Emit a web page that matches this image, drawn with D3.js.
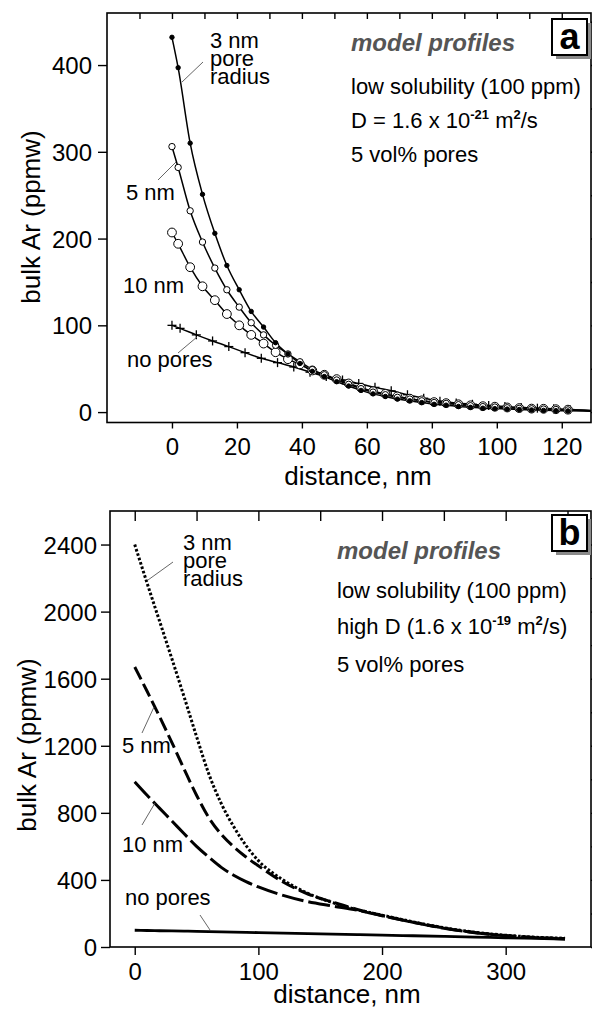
<!DOCTYPE html>
<html>
<head>
<meta charset="utf-8">
<script src="https://cdn.jsdelivr.net/npm/d3@7"></script>
<style>
  body { margin: 0; background: #fff; }
  svg { display: block; }
  text { font-family: "Liberation Sans", Arial, Helvetica, sans-serif; fill: #000; }
</style>
</head>
<body>
<svg id="fig" width="592" height="1013"></svg>
<script>
// ---------- panel a: model profiles, D = 1.6e-21 m2/s ----------
const distDots = [0, 1.9, 5.6, 9.4, 13.2, 16.9, 20.7, 24.4, 28.2, 31.9, 35.7, 39.4, 43.2, 46.9, 50.7, 54.4,
  58.2, 61.9, 65.7, 69.4, 73.2, 76.9, 80.7, 84.4, 88.2, 91.9, 95.7, 99.4, 103.2, 106.9, 110.7, 114.4,
  118.2, 121.9, 129];
const pore3A = [432, 397, 310, 251, 206, 169, 141, 116, 98, 80, 67, 56, 47, 41, 35, 30, 25, 21, 18, 15,
  13, 11, 9, 8, 6.5, 5.5, 4.5, 4, 3.5, 3, 2.5, 2, 1.7, 1.4, 1];
const pore5A = [306, 282, 232, 196, 166, 141, 121, 103, 89, 77, 67, 58, 49, 43, 37, 32, 27, 23, 20, 17,
  15, 13, 11, 10, 8.5, 7.3, 6.3, 5.8, 5, 4.3, 3.8, 3.5, 3, 2.5, 1.5];
const pore10A = [207, 194, 167, 145, 129, 113, 100, 89, 79, 69, 61, 55, 48, 43, 38, 33, 28, 24, 21, 18,
  15.5, 13.5, 11.5, 10.3, 9, 7.8, 6.8, 6.2, 5.3, 4.6, 4, 3.8, 3.3, 2.8, 1.8];
const distCross = [0, 2.5, 7.5, 12.5, 17.5, 22.5, 27.5, 32.5, 37.5, 42.5, 47.5, 52.5, 57.5, 62.5, 67.5,
  72.5, 77.5, 82.5, 87.5, 92.5, 97.5, 102.5, 107.5, 112.5, 117.5, 122.5, 129];
const noPoresA = [100, 96.5, 89, 82, 75.5, 68.5, 62, 57, 52, 46, 41, 37, 33, 28.5, 24.5, 20, 16, 12.5,
  10.5, 9, 7.5, 6.3, 5.3, 4.5, 3.8, 3, 1.5];
const xTicksA = [0, 20, 40, 60, 80, 100, 120];
const yTicksA = [0, 100, 200, 300, 400];

// ---------- panel b: model profiles, high D = 1.6e-19 m2/s ----------
const distB = [0, 10, 20, 30, 40, 50, 60, 70, 80, 90, 100, 120, 140, 160, 180, 200, 225, 250, 275, 300, 325, 348];
const pore3B = [2400, 2170, 1945, 1720, 1490, 1255, 1030, 855, 718, 605, 515, 400, 320, 265, 222, 190, 150, 115, 88, 70, 58, 52];
const pore5B = [1670, 1525, 1375, 1220, 1060, 905, 770, 672, 598, 537, 484, 388, 316, 268, 224, 188, 148, 113, 86, 68, 56, 50];
const pore10B = [985, 905, 828, 752, 675, 600, 535, 475, 428, 390, 358, 308, 270, 244, 219, 186, 147, 112, 85, 67, 55, 48];
const noPoresB = [100, 98.5, 97, 96, 95, 93.5, 92, 90.5, 89, 87.5, 86, 83, 80, 77, 74, 71, 67, 63, 59, 55, 51, 47];
const xTicksB = [0, 100, 200, 300];
const yTicksB = [0, 400, 800, 1200, 1600, 2000, 2400];

const svg = d3.select("#fig");
const TICK_FONT = 24, TITLE_FONT = 26, NOTE_FONT = 22;

// scales
const xA = d3.scaleLinear().domain([-20, 129]).range([107, 591]);
const yA = d3.scaleLinear().domain([-12, 460]).range([422.5, 13]);
const xB = d3.scaleLinear().domain([-20, 369]).range([110, 591]);
const yB = d3.scaleLinear().domain([0, 2600]).range([947, 511]);

function frame(g, x, y, o) {
  const [x0, x1] = x.range(), [y0, y1] = [y.range()[1], y.range()[0]];
  // bottom axis, outward ticks
  const bottom = g.append("g").attr("transform", `translate(0,${y1})`);
  bottom.call(d3.axisBottom(x).tickValues(o.xMinor).tickSize(o.xMinorLen).tickFormat("").tickSizeOuter(0));
  bottom.call(d3.axisBottom(x).tickValues(o.xMajor).tickSize(o.xMajorLen).tickSizeOuter(0)
    .tickFormat(d3.format("d")));
  bottom.selectAll(".domain").remove();
  bottom.selectAll("text").attr("font-size", TICK_FONT).attr("y", o.xLabelDy).attr("dy", 0)
    .style("font-family", "Liberation Sans, Arial, sans-serif");
  // left axis, outward ticks
  const left = g.append("g").attr("transform", `translate(${x0},0)`);
  left.call(d3.axisLeft(y).tickValues(o.yMinor).tickSize(o.yMinorLen).tickFormat("").tickSizeOuter(0));
  left.call(d3.axisLeft(y).tickValues(o.yMajor).tickSize(o.yMajorLen).tickSizeOuter(0)
    .tickFormat(d3.format("d")));
  left.selectAll(".domain").remove();
  left.selectAll("text").attr("font-size", TICK_FONT).attr("x", o.yLabelDx).attr("dy", "0.36em")
    .style("font-family", "Liberation Sans, Arial, sans-serif");
  // top axis, inward ticks
  const top = g.append("g").attr("transform", `translate(0,${y0})`);
  top.call(d3.axisBottom(x).tickValues(o.topTicks).tickSize(o.topLen).tickFormat("").tickSizeOuter(0));
  top.selectAll(".domain").remove();
  // right axis, inward ticks
  const right = g.append("g").attr("transform", `translate(${x1},0)`);
  right.call(d3.axisLeft(y).tickValues(o.rightTicks).tickSize(o.rightLen).tickFormat("").tickSizeOuter(0));
  right.selectAll(".domain").remove();
  g.selectAll(".tick line").attr("stroke", "#000").attr("stroke-width", 1.4);
  g.append("rect").attr("x", x0).attr("y", y0).attr("width", x1 - x0).attr("height", y1 - y0)
    .attr("fill", "none").attr("stroke", "#000").attr("stroke-width", 1.6);
}

function panelTag(g, x, y, letter) {
  g.append("rect").attr("x", x + 4).attr("y", y + 4).attr("width", 35).attr("height", 36).attr("fill", "#8a8a8a");
  g.append("rect").attr("x", x).attr("y", y).attr("width", 35).attr("height", 36)
    .attr("fill", "#fff").attr("stroke", "#000").attr("stroke-width", 2);
  g.append("text").attr("x", x + 17.5).attr("y", y + 30).attr("text-anchor", "middle")
    .attr("font-size", 36).attr("font-weight", "bold").text(letter);
}

function notes(g, x, ys, dLine) {
  g.append("text").attr("x", x).attr("y", ys[0]).attr("font-size", 24).attr("font-weight", "bold")
    .attr("font-style", "italic").style("fill", "#555").text("model profiles");
  g.append("text").attr("x", x).attr("y", ys[1]).attr("font-size", NOTE_FONT).text("low solubility (100 ppm)");
  const t = g.append("text").attr("x", x).attr("y", ys[2]).attr("font-size", NOTE_FONT);
  t.append("tspan").text(dLine.pre);
  t.append("tspan").attr("dy", -9).attr("font-size", 13).attr("font-weight", "bold").text(dLine.exp);
  t.append("tspan").attr("dy", 9).text(" m");
  t.append("tspan").attr("dy", -9).attr("font-size", 13).attr("font-weight", "bold").text("2");
  t.append("tspan").attr("dy", 9).text(dLine.post);
  g.append("text").attr("x", x).attr("y", ys[3]).attr("font-size", NOTE_FONT).text("5 vol% pores");
}

// one text element per label; extra lines are stacked tspans
function curveLabel(g, x, y0, lines, leader) {
  const t = g.append("text").attr("x", x).attr("y", y0).attr("font-size", NOTE_FONT);
  lines.forEach((s, i) => t.append("tspan").attr("x", x).attr("dy", i ? 18 : 0).text(s));
  if (leader) g.append("line").attr("x1", leader[0]).attr("y1", leader[1]).attr("x2", leader[2]).attr("y2", leader[3])
    .attr("stroke", "#555").attr("stroke-width", 0.9);
}

function axisTitles(g, cx, by, ly, lx) {
  g.append("text").attr("x", cx).attr("y", by).attr("text-anchor", "middle").attr("font-size", TITLE_FONT)
    .text("distance, nm");
  g.append("text").attr("transform", `translate(${lx},${ly}) rotate(-90)`).attr("text-anchor", "middle")
    .attr("font-size", TITLE_FONT).text("bulk Ar (ppmw)");
}

// ================= panel a =================
const gA = svg.append("g");
frame(gA, xA, yA, {
  xMajor: xTicksA, xMajorLen: 6, xMinor: d3.range(-20, 130, 10), xMinorLen: 4, xLabelDy: 32,
  yMajor: yTicksA, yMajorLen: 9, yMinor: d3.range(0, 460, 50), yMinorLen: 5, yLabelDx: -15,
  topTicks: d3.range(-10, 129, 10), topLen: 6, rightTicks: d3.range(0, 460, 50), rightLen: -7
});

const lineA = (ys, xs) => d3.line().x((d, i) => xA(xs[i])).y(d => yA(d)).curve(d3.curveMonotoneX)(ys);
const seriesA = [
  { v: noPoresA, d: distCross, mark: "cross" },
  { v: pore10A, d: distDots, mark: "big" },
  { v: pore5A, d: distDots, mark: "small" },
  { v: pore3A, d: distDots, mark: "dot" }
];
seriesA.forEach(s => {
  gA.append("path").attr("d", lineA(s.v, s.d)).attr("fill", "none").attr("stroke", "#000").attr("stroke-width", 1.5);
});
seriesA.forEach(s => {
  const pts = s.v.map((v, i) => ({ x: xA(s.d[i]), y: yA(v), d: s.d[i] })).filter(p => p.d <= 124);
  if (s.mark === "cross") {
    const cr = gA.append("g").attr("stroke", "#000").attr("stroke-width", 1.3);
    pts.forEach(p => {
      cr.append("line").attr("x1", p.x - 4.5).attr("x2", p.x + 4.5).attr("y1", p.y).attr("y2", p.y);
      cr.append("line").attr("x1", p.x).attr("x2", p.x).attr("y1", p.y - 4.5).attr("y2", p.y + 4.5);
    });
  } else {
    const r = s.mark === "big" ? 4.4 : s.mark === "small" ? 3.2 : 2.2;
    gA.append("g").selectAll("circle").data(pts).join("circle")
      .attr("cx", p => p.x).attr("cy", p => p.y).attr("r", r)
      .attr("fill", s.mark === "dot" ? "#000" : "#fff").attr("stroke", "#000").attr("stroke-width", 1);
  }
});

curveLabel(gA, 210, 48, ["3 nm", "pore", "radius"], [203, 62, 182, 82]);
curveLabel(gA, 126, 200, ["5 nm"], [158, 180, 176, 162]);
curveLabel(gA, 123, 293, ["10 nm"], null);
curveLabel(gA, 127, 367, ["no pores"], [178, 353, 197, 337]);
notes(gA, 351, [51, 94, 128, 162], { pre: "D = 1.6 x 10", exp: "-21", post: "/s" });
panelTag(gA, 552, 19, "a");
axisTitles(gA, 358, 485, 217, 40);

// ================= panel b =================
const gB = svg.append("g");
frame(gB, xB, yB, {
  xMajor: xTicksB, xMajorLen: 8, xMinor: d3.range(50, 369, 100), xMinorLen: 5, xLabelDy: 33,
  yMajor: yTicksB, yMajorLen: 9, yMinor: d3.range(200, 2600, 400), yMinorLen: 7, yLabelDx: -13,
  topTicks: d3.range(0, 369, 50), topLen: 10, rightTicks: d3.range(0, 2600, 200), rightLen: -7
});

const lineB = ys => d3.line().x((d, i) => xB(distB[i])).y(d => yB(d)).curve(d3.curveMonotoneX)(ys);
const seriesB = [
  { v: noPoresB, dash: null, w: 2.8 },
  { v: pore10B, dash: "22,5", w: 3 },
  { v: pore5B, dash: "14,5", w: 3 },
  { v: pore3B, dash: "2.6,2", w: 3 }
];
seriesB.forEach(s => {
  gB.append("path").attr("d", lineB(s.v)).attr("fill", "none").attr("stroke", "#000")
    .attr("stroke-width", s.w).attr("stroke-dasharray", s.dash);
});

curveLabel(gB, 183, 550, ["3 nm", "pore", "radius"], [173, 562, 148, 580]);
curveLabel(gB, 122, 753, ["5 nm"], [142, 733, 154, 707]);
curveLabel(gB, 122, 852, ["10 nm"], [142, 825, 155, 803]);
curveLabel(gB, 125, 905, ["no pores"], [200, 915, 210, 930]);
notes(gB, 337, [559, 598, 634, 672], { pre: "high D (1.6 x 10", exp: "-19", post: "/s)" });
panelTag(gB, 552, 515, "b");
axisTitles(gB, 347, 1003, 745, 36);
</script>
</body>
</html>
